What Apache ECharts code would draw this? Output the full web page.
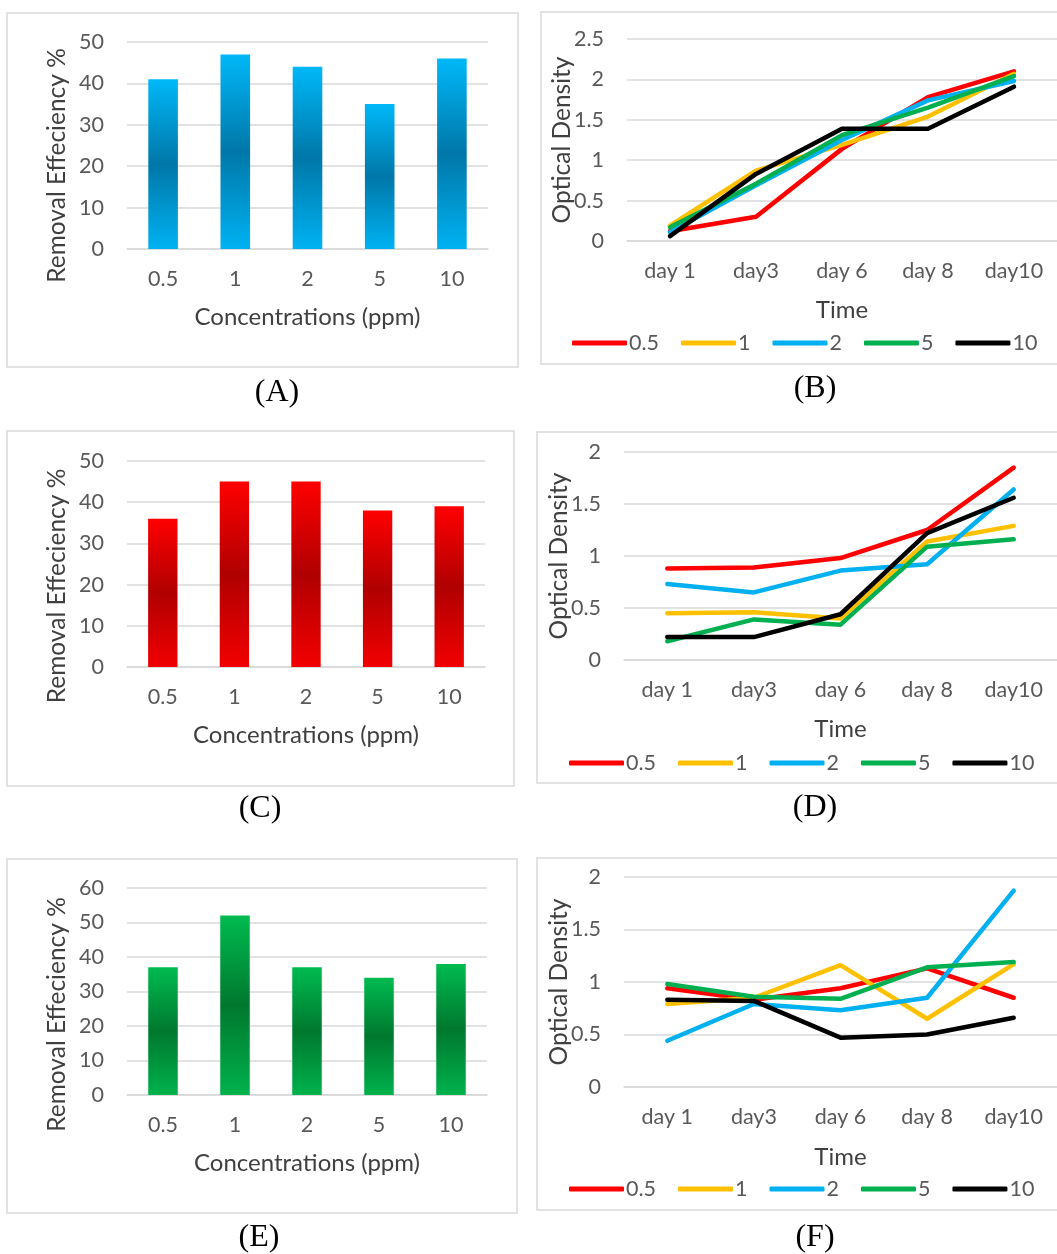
<!DOCTYPE html>
<html>
<head>
<meta charset="utf-8">
<script src="https://cdn.jsdelivr.net/npm/echarts@6/dist/echarts.min.js"></script>
<style>
  html, body { margin: 0; padding: 0; background: #fff; overflow: hidden; }
  #main { width: 1057px; height: 1254px; }
</style>
</head>
<body>
<div id="main"></div>
<script>
// categories
const concentrations = ['0.5', '1', '2', '5', '10'];
const days = ['day 1', 'day3', 'day 6', 'day 8', 'day10'];

// removal efficiency (%) bars
const removalA = [41, 47, 44, 35, 46];
const removalC = [36, 45, 45, 38, 39];
const removalE = [37, 52, 37, 34, 38];

// optical density, one row per concentration (0.5, 1, 2, 5, 10)
const odB = [
  [0.12, 0.30, 1.14, 1.78, 2.10],
  [0.19, 0.87, 1.19, 1.54, 2.07],
  [0.11, 0.69, 1.25, 1.74, 1.98],
  [0.17, 0.71, 1.31, 1.65, 2.04],
  [0.06, 0.83, 1.39, 1.39, 1.91]
];
const odD = [
  [0.88, 0.89, 0.98, 1.25, 1.85],
  [0.45, 0.46, 0.40, 1.14, 1.29],
  [0.73, 0.65, 0.86, 0.92, 1.64],
  [0.18, 0.39, 0.34, 1.09, 1.16],
  [0.22, 0.22, 0.44, 1.22, 1.56]
];
const odF = [
  [0.94, 0.83, 0.94, 1.13, 0.85],
  [0.79, 0.85, 1.16, 0.65, 1.17],
  [0.44, 0.79, 0.73, 0.85, 1.87],
  [0.98, 0.86, 0.84, 1.14, 1.19],
  [0.83, 0.82, 0.47, 0.50, 0.66]
];

const lineColors = ['#ff0000', '#ffc000', '#00b0f0', '#00b050', '#000000'];
const FONT = 'Lato';
const tickColor = '#595959';
const titleColor = '#404040';
const gridColor = '#d9d9d9';

var chart = echarts.init(document.getElementById('main'));

function barGrad(top, mid, bottom) {
  return new echarts.graphic.LinearGradient(0, 0, 0, 1, [
    { offset: 0, color: top },
    { offset: 0.5, color: mid },
    { offset: 1, color: bottom }
  ]);
}

const grids = [
  { left: 127, top: 42, width: 361, height: 207 },   // A
  { left: 627, top: 39, width: 441, height: 202 },   // B
  { left: 127, top: 461, width: 358, height: 206 },  // C
  { left: 624, top: 452, width: 446, height: 208 },  // D
  { left: 127, top: 888, width: 360, height: 207 },  // E
  { left: 624, top: 877, width: 446, height: 210 }   // F
];

function xAxisFor(idx, cats, name, gap) {
  return {
    type: 'category',
    gridIndex: idx,
    data: cats,
    name: name,
    nameLocation: 'middle',
    nameGap: gap,
    nameTextStyle: { color: titleColor, fontSize: 24, fontFamily: FONT },
    axisLine: { lineStyle: { color: gridColor, width: 1.5 } },
    axisTick: { show: false },
    axisLabel: { color: tickColor, fontSize: 21.5, fontFamily: FONT, margin: 19 }
  };
}

// shift: pushes the rotated axis title downward on screen (Excel places it off-centre)
function yAxisFor(idx, max, interval, name, gap, shift) {
  return {
    type: 'value',
    gridIndex: idx,
    min: 0,
    max: max,
    interval: interval,
    name: name,
    nameLocation: 'middle',
    nameGap: gap,
    nameMoveOverlap: false,
    nameTextStyle: {
      color: titleColor, fontSize: 24.5, fontFamily: FONT,
      padding: [0, shift * 2, 0, 0]
    },
    axisLine: { show: false },
    axisTick: { show: false },
    splitLine: { lineStyle: { color: gridColor, width: 1.5 } },
    axisLabel: { color: tickColor, fontSize: 21.5, fontFamily: FONT, margin: 23 }
  };
}

function barSeries(idx, data, color) {
  return {
    type: 'bar',
    xAxisIndex: idx,
    yAxisIndex: idx,
    data: data,
    barWidth: '41%',
    itemStyle: { color: color }
  };
}

function lineSeries(idx, rows) {
  return rows.map(function (row, i) {
    return {
      name: concentrations[i],
      type: 'line',
      xAxisIndex: idx,
      yAxisIndex: idx,
      data: row,
      showSymbol: false,
      symbol: 'none',
      color: lineColors[i],
      lineStyle: { width: 4.5, color: lineColors[i], cap: 'round', join: 'round' }
    };
  });
}

function legendAt(left, top) {
  return {
    data: concentrations,
    left: left,
    top: top,
    icon: 'roundRect',
    itemWidth: 55,
    itemHeight: 5,
    itemGap: 22,
    padding: 0,
    selectedMode: false,
    textStyle: { color: tickColor, fontSize: 21.5, fontFamily: FONT, padding: [0, 0, 0, -3] }
  };
}

function box(x, y, w, h) {
  return {
    type: 'rect',
    shape: { x: x, y: y, width: w, height: h },
    style: { fill: 'none', stroke: '#d9d9d9', lineWidth: 1.5 },
    silent: true
  };
}

function caption(text, x, y) {
  return {
    type: 'text',
    x: x,
    y: y,
    style: {
      text: text,
      fill: '#000',
      font: '32px "Liberation Serif", "Times New Roman", serif',
      align: 'center',
      verticalAlign: 'middle'
    },
    silent: true
  };
}

var option = {
  animation: false,
  backgroundColor: '#fff',
  textStyle: { fontFamily: FONT },
  grid: grids,
  xAxis: [
    xAxisFor(0, concentrations, 'Concentrations (ppm)', 56),
    xAxisFor(1, days, 'Time', 57),
    xAxisFor(2, concentrations, 'Concentrations (ppm)', 56),
    xAxisFor(3, days, 'Time', 57),
    xAxisFor(4, concentrations, 'Concentrations (ppm)', 56),
    xAxisFor(5, days, 'Time', 58)
  ],
  yAxis: [
    yAxisFor(0, 50, 10, 'Removal Effeciency %', 57, 20),
    yAxisFor(1, 2.5, 0.5, 'Optical Density', 52, 0),
    yAxisFor(2, 50, 10, 'Removal Effeciency %', 57, 22),
    yAxisFor(3, 2, 0.5, 'Optical Density', 52, 0),
    yAxisFor(4, 60, 10, 'Removal Effeciency %', 57, 23),
    yAxisFor(5, 2, 0.5, 'Optical Density', 52, 0)
  ],
  legend: [
    legendAt(572, 332),
    legendAt(569, 752),
    legendAt(569, 1178)
  ],
  graphic: [
    box(7, 13, 511, 354),
    box(541, 12, 530, 352),
    box(7, 431, 507, 355),
    box(537, 432, 530, 351),
    box(7, 859, 510, 354),
    box(537, 858, 530, 352),
    caption('(A)', 277, 393),
    caption('(B)', 815, 389),
    caption('(C)', 260, 809),
    caption('(D)', 815, 808),
    caption('(E)', 259, 1238),
    caption('(F)', 815, 1238)
  ],
  series: [
    barSeries(0, removalA, barGrad('#00b8f8', '#0077a8', '#00b2f2')),
    barSeries(2, removalC, barGrad('#ff0000', '#b00000', '#f20000')),
    barSeries(4, removalE, barGrad('#00bb50', '#00782e', '#00b24c'))
  ]
    .concat(lineSeries(1, odB))
    .concat(lineSeries(3, odD))
    .concat(lineSeries(5, odF))
};

option && chart.setOption(option);
</script>
</body>
</html>
